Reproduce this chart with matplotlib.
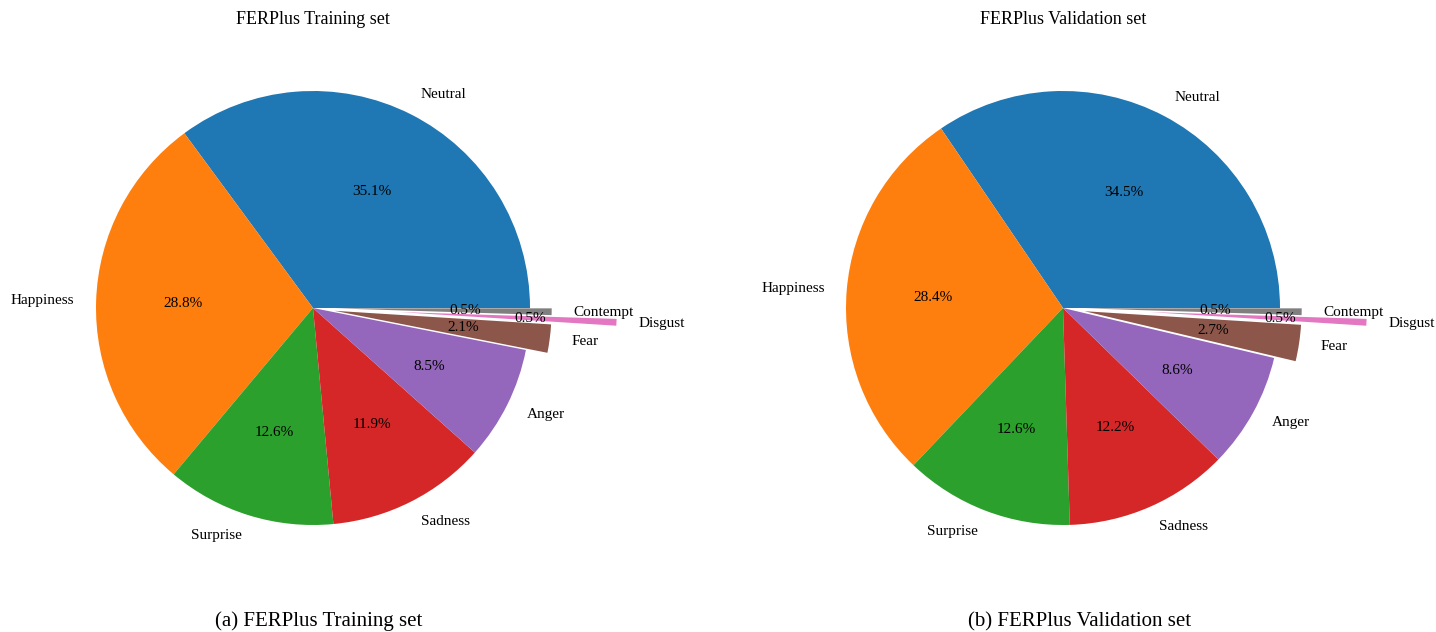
import matplotlib.pyplot as plt

plt.rcParams['font.family'] = ['Liberation Serif', 'DejaVu Serif']

labels = ['Neutral', 'Happiness', 'Surprise', 'Sadness', 'Anger', 'Fear', 'Disgust', 'Contempt']
train_pct = [35.1, 28.8, 12.6, 11.9, 8.5, 2.1, 0.5, 0.5]
val_pct = [34.5, 28.4, 12.6, 12.2, 8.6, 2.7, 0.5, 0.5]
explode = [0, 0, 0, 0, 0, 0.1, 0.4, 0.1]
colors = ['#1f77b4', '#ff7f0e', '#2ca02c', '#d62728', '#9467bd', '#8c564b', '#e377c2', '#7f7f7f']

W, H = 1436, 632
fig = plt.figure(figsize=(W / 100, H / 100), dpi=100)

R = 217  # pie radius in pixels
XL, YL = 1.7, 1.35


def add_pie(cx, cy, values, title, caption, cap_x):
    ax = fig.add_axes([(cx - XL * R) / W, (H - cy - YL * R) / H, 2 * XL * R / W, 2 * YL * R / H])
    ax.pie(values, labels=labels, colors=colors, explode=explode, autopct='%1.1f%%',
           startangle=0, counterclock=True,
           textprops={'fontsize': 11})
    ax.set_xlim(-XL, XL)
    ax.set_ylim(-YL, YL)
    ax.set_aspect('equal')
    ax.axis('off')
    fig.text(cx / W, 1 - 20 / H, title, ha='center', va='center', fontsize=13)
    fig.text(cap_x / W, 1 / H, caption, ha='center', va='bottom', fontsize=15)


add_pie(313, 308, train_pct, 'FERPlus Training set', '(a) FERPlus Training set', 319)
add_pie(1063, 308, val_pct, 'FERPlus Validation set', '(b) FERPlus Validation set', 1080)

fig.savefig('out.png', dpi=100)
